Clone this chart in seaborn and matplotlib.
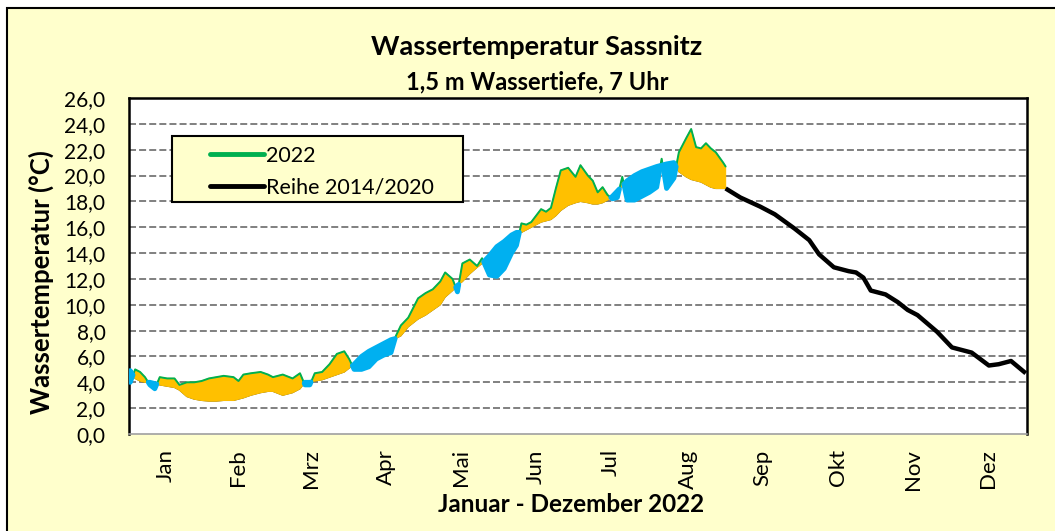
import matplotlib
matplotlib.use('Agg')
import matplotlib.pyplot as plt
import seaborn as sns
import numpy as np
from matplotlib.patches import Rectangle
from matplotlib.lines import Line2D
from matplotlib.ticker import FuncFormatter

# day of year for the 2022 readings (and the long-term series on the same days)
days_2022 = [1, 3, 5, 7, 9, 11, 13, 16, 19, 21, 24, 27, 30, 33, 36, 39, 43, 45, 47, 50,
             54, 57, 59, 63, 67, 70, 72, 74, 76, 79, 82, 85, 88, 90, 92, 95, 98, 101, 104, 107,
             109, 111, 114, 118, 121, 124, 127, 129, 132, 134, 136, 139, 142, 144, 147, 150, 153, 156, 158, 160,
             162, 164, 166, 168, 170, 172, 174, 176, 179, 182, 184, 187, 189, 191, 193, 195, 197, 199, 201, 203,
             206, 209, 212, 215, 217, 219, 222, 224, 227, 229, 231, 233, 235, 237, 239, 242, 243]
temp_2022 = [4.0, 5.0, 4.8, 4.4, 3.8, 3.5, 4.4, 4.3, 4.3, 3.8, 4.0, 4.0, 4.1, 4.3, 4.4, 4.5, 4.4, 4.1, 4.6, 4.7,
             4.8, 4.6, 4.4, 4.6, 4.3, 4.7, 3.8, 3.8, 4.7, 4.8, 5.4, 6.2, 6.4, 5.8, 5.0, 5.0, 5.2, 5.8, 6.1, 6.3,
             7.6, 8.4, 9.0, 10.5, 10.9, 11.2, 11.8, 12.5, 12.0, 11.0, 13.2, 13.5, 13.0, 13.6, 12.3, 12.2, 12.8, 14.0, 14.6, 16.3,
             16.2, 16.4, 16.9, 17.4, 17.2, 17.5, 19.0, 20.4, 20.6, 19.9, 20.8, 20.0, 19.6, 18.7, 19.1, 18.5, 18.2, 18.3, 19.9, 18.1,
             18.1, 18.4, 18.7, 19.1, 21.3, 19.0, 19.8, 21.8, 22.9, 23.6, 22.2, 22.1, 22.5, 22.1, 21.8, 21.0, 20.7]
ref_early = [4.9, 4.3, 4.1, 4.0, 4.0, 3.9, 3.8, 3.7, 3.6, 3.4, 2.9, 2.7, 2.6, 2.55, 2.55, 2.6, 2.6, 2.7, 2.8, 3.0,
             3.2, 3.3, 3.3, 3.0, 3.2, 3.5, 4.0, 4.0, 4.1, 4.2, 4.4, 4.6, 4.8, 5.1, 5.4, 6.0, 6.4, 6.7, 7.0, 7.3,
             7.4, 7.6, 8.3, 8.9, 9.2, 9.6, 10.0, 10.6, 11.1, 11.5, 11.8, 12.4, 12.9, 13.2, 13.8, 14.5, 14.9, 15.4, 15.6, 15.6,
             15.8, 16.0, 16.2, 16.4, 16.5, 16.6, 16.9, 17.3, 17.7, 17.9, 18.0, 17.9, 17.8, 17.8, 17.9, 18.1, 18.4, 18.8, 19.2, 19.6,
             20.0, 20.3, 20.5, 20.7, 20.8, 20.9, 21.0, 20.3, 19.9, 19.7, 19.6, 19.5, 19.3, 19.1, 19.0, 19.0, 19.0]

# long-term series after the 2022 data ends
days_late = [243, 249, 257, 263, 271, 277, 281, 287, 293, 296, 299, 302, 308, 313, 317, 321, 329, 335, 339, 343,
             350, 354, 359, 365]
ref_late = [19.0, 18.3, 17.6, 17.0, 15.9, 15.0, 13.9, 12.9, 12.6, 12.5, 12.1, 11.1, 10.8, 10.2, 9.6, 9.2, 7.9, 6.7, 6.5, 6.3,
            5.3, 5.4, 5.65, 4.7]

month_days = [15.5, 45, 74.5, 105, 135.5, 166, 196.5, 227.5, 258, 288.5, 319, 349.5]
month_labels = ['Jan', 'Feb', 'Mrz', 'Apr', 'Mai', 'Jun', 'Jul', 'Aug', 'Sep', 'Okt', 'Nov', 'Dez']

sns.set_style('white')
plt.rcParams['font.family'] = ['Lato', 'DejaVu Sans']
plt.rcParams['text.color'] = 'black'
plt.rcParams['xtick.color'] = 'black'
plt.rcParams['ytick.color'] = 'black'

YELLOW = '#FFFFCC'
ORANGE = '#FFC000'
BLUE = '#00B0F0'
GREEN = '#00B050'

W, H = 1055, 531
fig = plt.figure(figsize=(W / 100, H / 100), dpi=100)
fig.patch.set_facecolor('white')
bg = Rectangle((7 / W, -0.1), 1.2, 1.1 - 8 / H, transform=fig.transFigure,
               facecolor=YELLOW, edgecolor='black', lw=1.5, zorder=-10)
fig.patches.append(bg)

ax = fig.add_axes([129 / W, 1 - 434 / H, 898 / W, 336 / H])
ax.set_zorder(1)
ax.set_facecolor('white')

d = np.array(days_2022, dtype=float)
t = np.array(temp_2022)
r = np.array(ref_early)
# Excel-like thick areas: fill plus an edge in the same colour
sns.lineplot(x=days_2022, y=ref_early, ax=ax, color='#6b5a10', lw=0.9, zorder=2.9)
ax.fill_between(d, r, t, where=t >= r, interpolate=True, facecolor=ORANGE, edgecolor=ORANGE,
                lw=0.8, zorder=3.0)
sns.lineplot(x=days_2022, y=temp_2022, ax=ax, color=GREEN, lw=1.4, zorder=3.1)
ax.fill_between(d, r, t, where=t < r, interpolate=True, facecolor=BLUE, edgecolor=BLUE,
                lw=3.5, joinstyle='round', zorder=3.2)
sns.lineplot(x=days_late, y=ref_late, ax=ax, color='black', lw=3.2, zorder=4,
             solid_capstyle='butt')

ax.set_xlim(0.5, 365.5)
ax.set_ylim(0, 26)
ax.set_yticks(np.arange(0, 27, 2))
ax.yaxis.set_major_formatter(FuncFormatter(lambda v, p: f"{v:.1f}".replace('.', ',')))
ax.set_xticks(month_days)
ax.set_xticklabels(month_labels, rotation=90, fontsize=16)
ax.tick_params(axis='y', length=0, pad=17, labelsize=15)
ax.tick_params(axis='x', length=0, pad=11)
ax.set_xlabel('')
ax.set_ylabel('')

for yv in range(2, 26, 2):
    ax.axhline(yv, color='#808080', lw=1.4, linestyle=(0, (3.6, 1.6)), zorder=1)

for side in ['left', 'right', 'top']:
    ax.spines[side].set_color('black')
    ax.spines[side].set_linewidth(1.8)
ax.spines['bottom'].set_color('#a0a0a0')
ax.spines['bottom'].set_linewidth(1.2)

# legend box
fig.patches.append(Rectangle((172 / W, 1 - 202 / H), 291 / W, 66 / H, transform=fig.transFigure,
                             facecolor=YELLOW, edgecolor='black', lw=1.5, zorder=5))
handles = [Line2D([], [], color=GREEN, lw=3.5, solid_capstyle='round'),
           Line2D([], [], color='black', lw=3.5, solid_capstyle='round')]
leg = fig.legend(handles, ['2022', 'Reihe 2014/2020'], loc='upper left',
                 bbox_to_anchor=(199 / W, 1 - 135 / H), frameon=False, fontsize=15.5,
                 handlelength=2.5, handletextpad=0.1, labelspacing=0.55, borderpad=0)
leg.set_zorder(6)

fig.text(537 / W, 1 - 47 / H, 'Wassertemperatur Sassnitz', ha='center', va='center',
         fontsize=19.5, fontweight='bold')
fig.text(537 / W, 1 - 82 / H, '1,5 m Wassertiefe, 7 Uhr', ha='center', va='center',
         fontsize=17, fontweight='bold')
fig.text(41 / W, 1 - 282 / H, 'Wassertemperatur (°C)', ha='center', va='center',
         rotation=90, fontsize=18.5, fontweight='bold')
fig.text(571 / W, 1 - 504 / H, 'Januar - Dezember 2022', ha='center', va='center',
         fontsize=17.5, fontweight='bold')

fig.savefig('out.png', dpi=100)
